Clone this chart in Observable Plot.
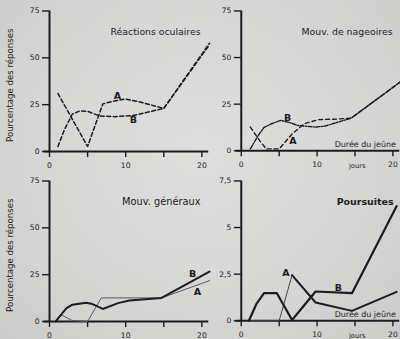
<!DOCTYPE html>
<html>
<head>
<meta charset="utf-8">
<script src="https://cdn.jsdelivr.net/npm/d3@7"></script>
<script src="https://cdn.jsdelivr.net/npm/@observablehq/plot@0.6"></script>
<style>
  html, body { margin: 0; padding: 0; }
  body {
    width: 400px; height: 339px; overflow: hidden; position: relative;
    background: radial-gradient(ellipse at 50% 45%, #dededc 0%, #d6d6d4 60%, #cbcbc9 100%);
    font-family: "DejaVu Sans", sans-serif;
  }
  .panel { position: absolute; }
  .panel svg { overflow: visible; }
  .panel g[aria-label$="tick"] path { stroke-width: 1.4; }
</style>
</head>
<body>
<script>
// Day ticks shared by every panel
const dayTicks = [0, 5, 10, 15, 20];
const pctTicks = [0, 25, 50, 75];
const pursuitTicks = [0, 2.5, 5, 7.5];

// Réactions oculaires (per cent of responses vs. days of fasting)
const ocA_day = [1.1, 5, 7, 8.5, 10, 12, 15, 21];
const ocA_val = [31, 2.7, 25.4, 27, 28, 26.3, 23, 57.8];
const ocB_day = [1.1, 2, 3, 4, 5, 6.5, 8.5, 11, 15, 21];
const ocB_val = [2.7, 12, 20, 21.7, 21.5, 19, 18.6, 19.2, 23, 57];

// Mouv. de nageoires
const ngA_day = [1.2, 2.5, 3.3, 5, 6.7, 8.3, 10.2, 12.6, 14.5, 21];
const ngA_val = [12.7, 5, 1, 1, 9, 14.5, 16.7, 17, 17.5, 37];
const ngB_day = [1.2, 2.2, 3, 4, 5.2, 6.5, 7.4, 9.8, 11, 14.5, 21];
const ngB_val = [1, 8, 12.5, 14.5, 16.3, 15, 13.6, 12.7, 13.2, 17.5, 37];

// Mouv. généraux
const gnA_day = [0.8, 1.6, 3, 5, 6.8, 14.7, 21];
const gnA_val = [0, 3.4, 0.5, 0, 12.6, 12.6, 21.8];
const gnB_day = [0.8, 1.5, 2.2, 3, 4.8, 5.5, 7, 9, 10.5, 14.7, 21];
const gnB_val = [0, 3.5, 7, 9, 10, 9.5, 6.7, 9.8, 11.2, 12.6, 26.6];

// Poursuites (scale 0–7,5)
const psA_day = [1, 5, 6.7, 9.8, 14.6, 20.5];
const psA_val = [0, 0, 2.45, 0.98, 0.53, 1.55];
const psB_day = [1, 2, 3, 4.7, 6.7, 9.8, 14.6, 20.5];
const psB_val = [0, 0.9, 1.48, 1.48, 0.04, 1.57, 1.48, 6.15];

// Curve labels: [text, day, value]
const ocLabels = [["A", 8.9, 29.5], ["B", 11, 17]];
const ngLabels = [["B", 6.1, 17.8], ["A", 6.8, 5.2]];
const gnLabels = [["B", 18.8, 25.4], ["A", 19.4, 16]];
const psLabels = [["A", 5.9, 2.58], ["B", 12.8, 1.78]];

const titles = ["Réactions oculaires", "Mouv. de nageoires", "Mouv. généraux", "Poursuites"];
const yTitle = "Pourcentage des réponses";
const xTitle = "Durée du jeûne";
const unit = "jours";

const ink = "#1c1c1c";
const pts = (days, vals) => days.map((d, i) => ({day: d, v: vals[i]}));
const comma = d => String(d).replace(".", ",");

function panel({left, top, yMax, yTicks, series, labels, title, titleDx, titleSize, titleBold, yLabel, xLabel}) {
  const marks = [
    Plot.ruleX([0], {y1: 0, y2: yMax, stroke: ink, strokeWidth: 2}),
    Plot.ruleY([0], {x1: -0.7, x2: 20.9, stroke: ink, strokeWidth: 2})
  ];
  for (const s of series) {
    marks.push(Plot.line(s.data, {
      x: "day", y: "v", stroke: s.color || ink, strokeWidth: s.width,
      strokeDasharray: s.dash
    }));
  }
  marks.push(Plot.text(labels, {
    x: d => d[1], y: d => d[2], text: d => d[0],
    fontSize: 9.5, fontWeight: "bold", fill: ink
  }));
  marks.push(Plot.text([title], {
    frameAnchor: "top-right", textAnchor: "end", dx: titleDx, dy: 17,
    fontSize: titleSize, fontWeight: titleBold ? "bold" : "normal", fill: ink
  }));
  if (yLabel) {
    marks.push(Plot.text([yTitle], {
      frameAnchor: "left", textAnchor: "middle", rotate: -90, dx: -39, dy: 4,
      fontSize: 8.6, fill: ink
    }));
  }
  if (xLabel) {
    marks.push(Plot.text([xTitle], {
      x: 20.4, y: 0, textAnchor: "end", dy: -6, fontSize: 8, fill: ink
    }));
    marks.push(Plot.text([unit], {
      x: 15.3, y: 0, dy: 15, fontSize: 6.8, fill: ink
    }));
  }
  const chart = Plot.plot({
    width: 209, height: 170,
    marginLeft: 49, marginRight: 0, marginTop: 10.5, marginBottom: 19,
    style: {background: "transparent", fontFamily: "DejaVu Sans", fontSize: "7.6px", color: ink, overflow: "visible"},
    x: {domain: [0, 21], ticks: dayTicks, tickFormat: d => d % 10 ? "" : d, tickSize: 6, tickPadding: 5, label: null},
    y: {domain: [0, yMax], ticks: yTicks, tickFormat: comma, tickSize: 7, tickPadding: 3, label: null},
    marks
  });
  const div = document.createElement("div");
  div.className = "panel";
  div.style.left = left + "px";
  div.style.top = top + "px";
  div.appendChild(chart);
  document.body.appendChild(div);
}

panel({
  left: 0, top: 0, yMax: 75, yTicks: pctTicks, title: titles[0], titleDx: -9, titleSize: 9.3, yLabel: true,
  labels: ocLabels,
  series: [
    {data: pts(ocA_day, ocA_val), width: 1.5, dash: "4,2.5"},
    {data: pts(ocB_day, ocB_val), width: 1.5, dash: "4,2.5"}
  ]
});

panel({
  left: 192, top: 0, yMax: 75, yTicks: pctTicks, title: titles[1], titleDx: -8, titleSize: 9.4, xLabel: true,
  labels: ngLabels,
  series: [
    {data: pts(ngA_day, ngA_val), width: 1.4, dash: "4,3"},
    {data: pts(ngB_day, ngB_val), width: 1.4, dash: "4,1.5,1,1.5"}
  ]
});

panel({
  left: 0, top: 170, yMax: 75, yTicks: pctTicks, title: titles[2], titleDx: -9, titleSize: 9.8, yLabel: true,
  labels: gnLabels,
  series: [
    {data: pts(gnA_day, gnA_val), width: 1, color: "#5a5a5a"},
    {data: pts(gnB_day, gnB_val), width: 2}
  ]
});

panel({
  left: 192, top: 170, yMax: 7.5, yTicks: pursuitTicks, title: titles[3], titleDx: -7, titleSize: 9.5, titleBold: true, xLabel: true,
  labels: psLabels,
  series: [
    {data: pts(psA_day, psA_val).slice(0, 3), width: 1, color: "#444"},
    {data: pts(psA_day, psA_val).slice(2), width: 2},
    {data: pts(psB_day, psB_val), width: 2.2}
  ]
});
</script>
</body>
</html>
